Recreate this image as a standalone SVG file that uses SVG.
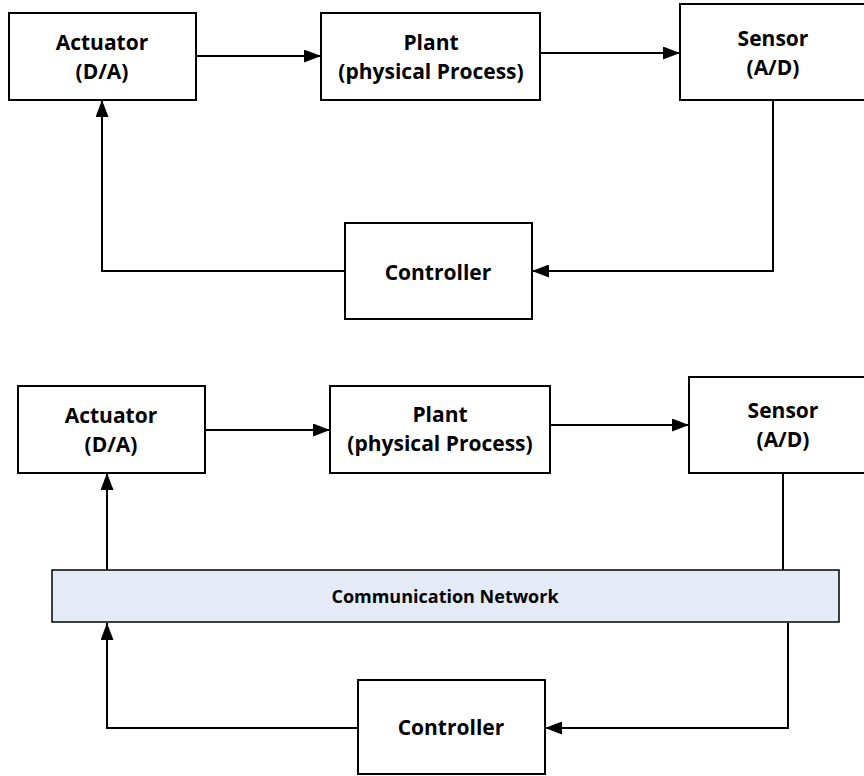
<svg xmlns="http://www.w3.org/2000/svg" width="864" height="776" viewBox="0 0 864 776">
<style>
.box{fill:#fff;stroke:#000;stroke-width:2}
.net{fill:#E5EBF6;stroke:#000;stroke-width:1.5}
.t{font-family:"Open Sans","Liberation Sans",sans-serif;font-weight:bold;font-size:21px;fill:#000;text-anchor:middle}
.tn{font-family:"Open Sans","Liberation Sans",sans-serif;font-weight:bold;font-size:18px;fill:#000;text-anchor:middle}
.c{fill:none;stroke:#000;stroke-width:2}
</style>
<defs>
<marker id="ah" markerUnits="userSpaceOnUse" markerWidth="17" markerHeight="13" refX="17" refY="6.5" orient="auto">
<path d="M0,0 L17,6.5 L0,13 z" fill="#000"/>
</marker>
</defs>
<rect width="864" height="776" fill="#fff"/>
<g id="connectors">
<path class="c" d="M196,56 L321,56" marker-end="url(#ah)"/>
<path class="c" d="M540,53 L680,53" marker-end="url(#ah)"/>
<path class="c" d="M773,100 L773,271 L532,271" marker-end="url(#ah)"/>
<path class="c" d="M345,271 L102,271 L102,100" marker-end="url(#ah)"/>
<path class="c" d="M205,430 L330,430" marker-end="url(#ah)"/>
<path class="c" d="M550,425 L689,425" marker-end="url(#ah)"/>
<path class="c" d="M783,473 L783,570"/>
<path class="c" d="M107,570 L107,473" marker-end="url(#ah)"/>
<path class="c" d="M788,623 L788,728 L545,728" marker-end="url(#ah)"/>
<path class="c" d="M358,728 L107,728 L107,623" marker-end="url(#ah)"/>
</g>
<g id="actuator1">
<rect class="box" x="9" y="13" width="187" height="87"/>
<text class="t" x="102" y="50">Actuator</text>
<text class="t" x="102" y="79">(D/A)</text>
</g>
<g id="plant1">
<rect class="box" x="321" y="13" width="219" height="87"/>
<text class="t" x="431" y="50">Plant</text>
<text class="t" x="431" y="79">(physical Process)</text>
</g>
<g id="sensor1">
<path class="box" d="M866,4 L680,4 L680,100 L866,100"/>
<text class="t" x="773" y="46">Sensor</text>
<text class="t" x="773" y="75">(A/D)</text>
</g>
<g id="controller1">
<rect class="box" x="345" y="223" width="187" height="96"/>
<text class="t" x="438" y="280">Controller</text>
</g>
<g id="actuator2">
<rect class="box" x="18" y="386" width="187" height="87"/>
<text class="t" x="111" y="423">Actuator</text>
<text class="t" x="111" y="452">(D/A)</text>
</g>
<g id="plant2">
<rect class="box" x="330" y="386" width="220" height="87"/>
<text class="t" x="440" y="422">Plant</text>
<text class="t" x="440" y="451">(physical Process)</text>
</g>
<g id="sensor2">
<path class="box" d="M866,377 L689,377 L689,473 L866,473"/>
<text class="t" x="783" y="418">Sensor</text>
<text class="t" x="783" y="447">(A/D)</text>
</g>
<g id="network">
<rect class="net" x="52" y="570" width="787" height="52"/>
<text class="tn" x="445" y="603">Communication Network</text>
</g>
<g id="controller2">
<rect class="box" x="358" y="680" width="187" height="94"/>
<text class="t" x="451" y="735">Controller</text>
</g>
</svg>
